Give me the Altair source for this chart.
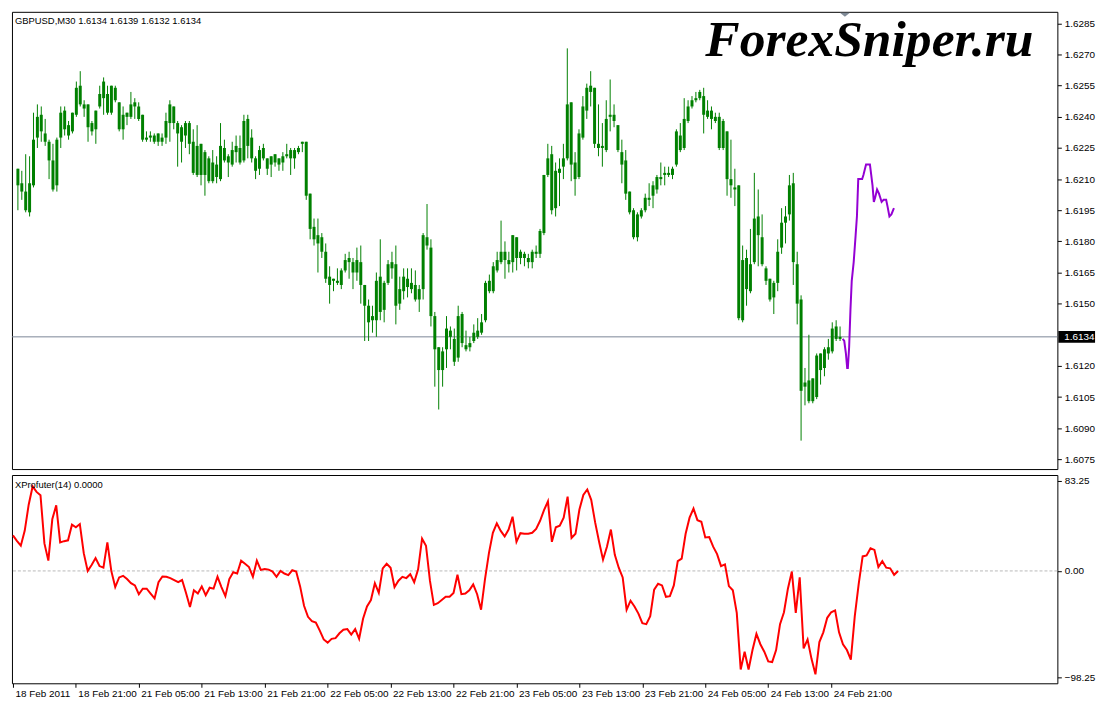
import altair as alt
import pandas as pd

# ---------------- text ----------------
symbol_title = "GBPUSD,M30  1.6134 1.6139 1.6132 1.6134"
indicator_title = "XProfuter(14) 0.0000"
watermark = "ForexSniper.ru"
last_price = 1.6134

# ---------------- candles (bar 0 = 18 Feb 2011 13:00, M30) ----------------
high = [
    1.6215, 1.6214, 1.6222, 1.6221, 1.6242, 1.6246, 1.6245, 1.6239, 1.6229, 1.6227,
    1.6230, 1.6245, 1.6245, 1.6238, 1.6242, 1.6257, 1.6262, 1.6248, 1.6246, 1.6238,
    1.6243, 1.6255, 1.6259, 1.6255, 1.6255, 1.6255, 1.6247, 1.6245, 1.6242, 1.6252,
    1.6249, 1.6247, 1.6241, 1.6233, 1.6233, 1.6232, 1.6232, 1.6232, 1.6242, 1.6248,
    1.6245, 1.6238, 1.6236, 1.6238, 1.6238, 1.6234, 1.6236, 1.6227, 1.6224, 1.6221,
    1.6224, 1.6221, 1.6237, 1.6229, 1.6222, 1.6228, 1.6231, 1.6231, 1.6241, 1.6241,
    1.6234, 1.6221, 1.6226, 1.6227, 1.6220, 1.6221, 1.6222, 1.6220, 1.6223, 1.6227,
    1.6225, 1.6225, 1.6226, 1.6228, 1.6228, 1.6203, 1.6191, 1.6191, 1.6184, 1.6179,
    1.6168, 1.6162, 1.6167, 1.6167, 1.6174, 1.6175, 1.6172, 1.6177, 1.6178, 1.6159,
    1.6152, 1.6149, 1.6165, 1.6181, 1.6161, 1.6171, 1.6175, 1.6178, 1.6163, 1.6167,
    1.6167, 1.6167, 1.6166, 1.6159, 1.6184, 1.6198, 1.6181, 1.6146, 1.6129, 1.6129,
    1.6144, 1.6139, 1.6138, 1.6149, 1.6146, 1.6137, 1.6134, 1.6140, 1.6143, 1.6145,
    1.6161, 1.6164, 1.6170, 1.6175, 1.6190, 1.6180, 1.6175, 1.6183, 1.6182, 1.6176,
    1.6175, 1.6174, 1.6176, 1.6178, 1.6186, 1.6212, 1.6227, 1.6226, 1.6218, 1.6220,
    1.6227, 1.6273, 1.6247, 1.6223, 1.6234, 1.6250, 1.6256, 1.6262, 1.6254, 1.6246,
    1.6237, 1.6248, 1.6258, 1.6246, 1.6236, 1.6229, 1.6224, 1.6204, 1.6196, 1.6194,
    1.6196, 1.6203, 1.6208, 1.6209, 1.6212, 1.6218, 1.6216, 1.6216, 1.6216, 1.6234,
    1.6237, 1.6249, 1.6248, 1.6250, 1.6252, 1.6253, 1.6254, 1.6248, 1.6245, 1.6242,
    1.6242, 1.6239, 1.6233, 1.6229, 1.6215, 1.6207, 1.6178, 1.6176, 1.6186, 1.6213,
    1.6205, 1.6193, 1.6168, 1.6162, 1.6161, 1.6181, 1.6196, 1.6197, 1.6212, 1.6213,
    1.6175, 1.6154, 1.6119, 1.6135, 1.6114, 1.6126, 1.6126, 1.6129, 1.6133, 1.6141,
    1.6142, 1.6139,
]
body_hi = [
    1.6215, 1.6208, 1.6204, 1.6208, 1.6229, 1.6240, 1.6241, 1.6232, 1.6228, 1.6219,
    1.6229, 1.6242, 1.6243, 1.6236, 1.6242, 1.6254, 1.6255, 1.6246, 1.6246, 1.6237,
    1.6243, 1.6251, 1.6257, 1.6251, 1.6255, 1.6254, 1.6247, 1.6241, 1.6242, 1.6246,
    1.6247, 1.6245, 1.6241, 1.6230, 1.6231, 1.6231, 1.6232, 1.6230, 1.6238, 1.6246,
    1.6245, 1.6237, 1.6235, 1.6237, 1.6237, 1.6228, 1.6226, 1.6227, 1.6223, 1.6220,
    1.6218, 1.6217, 1.6226, 1.6225, 1.6221, 1.6224, 1.6226, 1.6225, 1.6238, 1.6239,
    1.6230, 1.6220, 1.6224, 1.6225, 1.6220, 1.6221, 1.6222, 1.6220, 1.6221, 1.6222,
    1.6224, 1.6224, 1.6225, 1.6228, 1.6228, 1.6203, 1.6187, 1.6183, 1.6182, 1.6175,
    1.6163, 1.6162, 1.6161, 1.6166, 1.6171, 1.6172, 1.6170, 1.6171, 1.6170, 1.6159,
    1.6149, 1.6144, 1.6161, 1.6163, 1.6160, 1.6169, 1.6170, 1.6169, 1.6157, 1.6163,
    1.6162, 1.6160, 1.6159, 1.6157, 1.6183, 1.6182, 1.6177, 1.6144, 1.6129, 1.6127,
    1.6138, 1.6137, 1.6133, 1.6144, 1.6145, 1.6130, 1.6131, 1.6136, 1.6137, 1.6141,
    1.6160, 1.6161, 1.6168, 1.6171, 1.6175, 1.6175, 1.6171, 1.6183, 1.6182, 1.6175,
    1.6174, 1.6172, 1.6175, 1.6175, 1.6185, 1.6212, 1.6220, 1.6222, 1.6214, 1.6215,
    1.6220, 1.6246, 1.6247, 1.6218, 1.6232, 1.6245, 1.6254, 1.6255, 1.6254, 1.6227,
    1.6226, 1.6239, 1.6241, 1.6241, 1.6236, 1.6223, 1.6219, 1.6204, 1.6195, 1.6193,
    1.6195, 1.6201, 1.6201, 1.6207, 1.6211, 1.6211, 1.6213, 1.6213, 1.6215, 1.6233,
    1.6231, 1.6239, 1.6245, 1.6248, 1.6249, 1.6252, 1.6250, 1.6243, 1.6243, 1.6240,
    1.6240, 1.6238, 1.6233, 1.6210, 1.6206, 1.6207, 1.6171, 1.6172, 1.6169, 1.6191,
    1.6192, 1.6182, 1.6167, 1.6162, 1.6160, 1.6175, 1.6189, 1.6192, 1.6207, 1.6208,
    1.6169, 1.6152, 1.6112, 1.6113, 1.6114, 1.6125, 1.6126, 1.6128, 1.6129, 1.6138,
    1.6139, 1.6134,
]
body_lo = [
    1.6207, 1.6204, 1.6195, 1.6194, 1.6207, 1.6230, 1.6233, 1.6228, 1.6219, 1.6205,
    1.6207, 1.6230, 1.6234, 1.6231, 1.6233, 1.6241, 1.6246, 1.6244, 1.6235, 1.6233,
    1.6234, 1.6245, 1.6249, 1.6242, 1.6242, 1.6248, 1.6234, 1.6234, 1.6240, 1.6240,
    1.6245, 1.6239, 1.6229, 1.6229, 1.6230, 1.6228, 1.6228, 1.6228, 1.6230, 1.6237,
    1.6237, 1.6232, 1.6228, 1.6231, 1.6227, 1.6213, 1.6212, 1.6212, 1.6212, 1.6209,
    1.6209, 1.6211, 1.6210, 1.6219, 1.6218, 1.6217, 1.6223, 1.6218, 1.6219, 1.6226,
    1.6220, 1.6214, 1.6215, 1.6220, 1.6215, 1.6217, 1.6218, 1.6217, 1.6218, 1.6221,
    1.6220, 1.6220, 1.6223, 1.6227, 1.6202, 1.6186, 1.6181, 1.6179, 1.6175, 1.6162,
    1.6159, 1.6161, 1.6160, 1.6159, 1.6166, 1.6170, 1.6165, 1.6165, 1.6159, 1.6149,
    1.6141, 1.6142, 1.6142, 1.6146, 1.6147, 1.6160, 1.6167, 1.6149, 1.6150, 1.6156,
    1.6158, 1.6157, 1.6152, 1.6152, 1.6157, 1.6178, 1.6144, 1.6128, 1.6118, 1.6118,
    1.6128, 1.6134, 1.6122, 1.6124, 1.6131, 1.6128, 1.6129, 1.6132, 1.6134, 1.6136,
    1.6142, 1.6156, 1.6156, 1.6166, 1.6170, 1.6171, 1.6169, 1.6170, 1.6172, 1.6172,
    1.6172, 1.6170, 1.6170, 1.6174, 1.6174, 1.6184, 1.6212, 1.6195, 1.6196, 1.6213,
    1.6216, 1.6220, 1.6217, 1.6210, 1.6211, 1.6230, 1.6243, 1.6252, 1.6227, 1.6225,
    1.6225, 1.6224, 1.6240, 1.6238, 1.6224, 1.6217, 1.6203, 1.6194, 1.6182, 1.6182,
    1.6192, 1.6195, 1.6200, 1.6202, 1.6205, 1.6210, 1.6212, 1.6212, 1.6212, 1.6217,
    1.6224, 1.6225, 1.6238, 1.6245, 1.6248, 1.6249, 1.6241, 1.6240, 1.6239, 1.6238,
    1.6225, 1.6225, 1.6210, 1.6207, 1.6205, 1.6143, 1.6142, 1.6157, 1.6156, 1.6170,
    1.6183, 1.6169, 1.6161, 1.6152, 1.6153, 1.6160, 1.6177, 1.6189, 1.6193, 1.6170,
    1.6150, 1.6108, 1.6110, 1.6103, 1.6103, 1.6105, 1.6118, 1.6119, 1.6126, 1.6127,
    1.6133, 1.6133,
]
low = [
    1.6195, 1.6200, 1.6194, 1.6192, 1.6206, 1.6225, 1.6228, 1.6226, 1.6210, 1.6204,
    1.6204, 1.6225, 1.6231, 1.6229, 1.6232, 1.6240, 1.6245, 1.6240, 1.6228, 1.6231,
    1.6227, 1.6244, 1.6241, 1.6241, 1.6241, 1.6247, 1.6233, 1.6229, 1.6236, 1.6239,
    1.6239, 1.6238, 1.6228, 1.6228, 1.6228, 1.6227, 1.6226, 1.6226, 1.6227, 1.6228,
    1.6234, 1.6216, 1.6218, 1.6225, 1.6222, 1.6212, 1.6211, 1.6207, 1.6202, 1.6208,
    1.6208, 1.6208, 1.6209, 1.6218, 1.6211, 1.6216, 1.6218, 1.6217, 1.6218, 1.6220,
    1.6218, 1.6210, 1.6212, 1.6219, 1.6212, 1.6211, 1.6216, 1.6214, 1.6214, 1.6220,
    1.6212, 1.6215, 1.6222, 1.6223, 1.6200, 1.6181, 1.6178, 1.6165, 1.6172, 1.6160,
    1.6150, 1.6156, 1.6159, 1.6157, 1.6165, 1.6162, 1.6157, 1.6161, 1.6150, 1.6132,
    1.6132, 1.6136, 1.6134, 1.6142, 1.6141, 1.6159, 1.6162, 1.6140, 1.6147, 1.6152,
    1.6153, 1.6155, 1.6151, 1.6146, 1.6152, 1.6176, 1.6139, 1.6110, 1.6099, 1.6110,
    1.6119, 1.6128, 1.6120, 1.6122, 1.6129, 1.6127, 1.6127, 1.6131, 1.6133, 1.6135,
    1.6141, 1.6155, 1.6155, 1.6165, 1.6169, 1.6162, 1.6165, 1.6165, 1.6166, 1.6169,
    1.6168, 1.6167, 1.6167, 1.6172, 1.6172, 1.6183, 1.6211, 1.6193, 1.6192, 1.6197,
    1.6210, 1.6219, 1.6209, 1.6202, 1.6210, 1.6229, 1.6239, 1.6245, 1.6225, 1.6221,
    1.6216, 1.6223, 1.6233, 1.6235, 1.6223, 1.6208, 1.6200, 1.6193, 1.6181, 1.6180,
    1.6191, 1.6194, 1.6197, 1.6196, 1.6203, 1.6207, 1.6207, 1.6211, 1.6210, 1.6216,
    1.6223, 1.6224, 1.6237, 1.6244, 1.6247, 1.6248, 1.6232, 1.6239, 1.6234, 1.6237,
    1.6224, 1.6224, 1.6202, 1.6201, 1.6197, 1.6142, 1.6141, 1.6149, 1.6155, 1.6169,
    1.6168, 1.6168, 1.6159, 1.6151, 1.6145, 1.6156, 1.6174, 1.6179, 1.6190, 1.6159,
    1.6140, 1.6084, 1.6101, 1.6102, 1.6102, 1.6104, 1.6111, 1.6115, 1.6123, 1.6126,
    1.6132, 1.6132,
]

# ---------------- XProfuter(14), bars 0..225 ----------------
xprofuter = [
    32.8, 27.8, 23.3, 37.3, 61.2, 78.0, 73.0, 70.0, 25.4, 9.5,
    47.7, 60.6, 26.3, 27.5, 28.3, 42.7, 40.3, 43.3, 16.4, 0.0,
    5.4, 11.9, 4.5, 3.0, 26.3, 0.0, -14.9, -6.0, -4.5, -7.5,
    -11.3, -13.4, -21.5, -16.4, -16.4, -20.9, -25.4, -10.4, -5.1, -5.4,
    -6.6, -8.4, -10.4, -8.4, -20.3, -33.4, -17.9, -20.9, -14.3, -22.4,
    -15.5, -16.4, -5.4, -14.9, -23.3, -7.5, -1.2, -2.4, 9.5, 6.6,
    3.6, -5.4, 9.5, 0.9, 1.8, 1.2, -0.6, -5.4, 0.0, -2.4,
    -3.9, 0.6, -0.6, -14.3, -32.2, -42.4, -46.3, -47.7, -55.2, -63.3,
    -66.2, -62.7, -62.1, -57.6, -54.3, -53.7, -58.8, -53.7, -62.7, -44.2,
    -32.8, -26.9, -11.3, -20.3, 2.4, 6.6, 3.0, -14.9, -9.0, -5.4,
    -6.6, -3.0, -10.4, 1.5, 29.8, 23.3, -9.0, -31.3, -29.8, -26.9,
    -23.9, -23.9, -20.3, -3.5, -21.5, -20.9, -17.9, -12.5, -21.5, -35.8,
    -7.5, 16.4, 35.2, 43.9, 37.0, 31.9, 38.2, 50.1, 26.9, 34.9,
    34.3, 34.3, 35.2, 38.8, 46.3, 56.1, 64.2, 26.9, 40.3, 41.8,
    49.2, 68.6, 30.4, 34.3, 56.7, 70.1, 75.2, 65.7, 44.8, 26.9,
    10.4, 22.4, 38.2, 14.9, 3.0, -6.0, -35.8, -27.5, -32.8, -39.4,
    -48.3, -49.2, -41.8, -17.3, -11.9, -13.4, -23.9, -23.3, -13.4, 9.0,
    11.3, 34.3, 49.2, 57.6, 46.9, 45.4, 31.0, 31.3, 22.4, 15.5,
    4.5, 6.0, -14.0, -17.9, -38.8, -91.0, -74.6, -91.0, -73.1, -58.2,
    -67.7, -74.6, -83.6, -84.2, -73.1, -49.2, -38.2, -16.4, -0.5, -38.8,
    -6.0, -71.6, -63.3, -81.2, -95.5, -65.7, -56.7, -43.3, -38.2, -36.5,
    -56.7, -67.7, -73.1, -82.0, -41.8, -11.9, 13.4, 14.3, 20.9, 19.4,
    3.6, 9.0, 3.0, 2.4, -3.6, 0.0,
]

# ---------------- forecast (purple) ----------------
forecast_bar = [
    211.67, 212.08, 212.5, 212.83, 213.0, 213.33, 213.67, 214.0, 214.5, 215.0,
    215.33, 215.67, 216.67, 217.0, 217.67, 218.33, 218.67, 219.0, 219.33, 219.67,
    220.0, 220.5, 221.0, 221.67, 222.17, 222.83, 223.17, 223.67, 224.17, 224.83,
]
forecast_price = [
    1.6133, 1.6132, 1.6126, 1.6119, 1.6119, 1.6129, 1.6147, 1.6161, 1.6170, 1.6183,
    1.6192, 1.6210, 1.6210, 1.6212, 1.6217, 1.6217, 1.6217, 1.6212, 1.6207, 1.6199,
    1.6201, 1.6205, 1.6203, 1.6199, 1.6200, 1.6200, 1.6197, 1.6192, 1.6193, 1.6196,
]

# ---------------- axes ----------------
time_tick_bars = [0, 16, 32, 48, 64, 80, 96, 112, 128, 144, 160, 176, 192, 208]
time_tick_labels = [
    "18 Feb 2011", "18 Feb 21:00", "21 Feb 05:00", "21 Feb 13:00", "21 Feb 21:00",
    "22 Feb 05:00", "22 Feb 13:00", "22 Feb 21:00", "23 Feb 05:00", "23 Feb 13:00",
    "23 Feb 21:00", "24 Feb 05:00", "24 Feb 13:00", "24 Feb 21:00",
]
price_ticks = [1.6075, 1.6090, 1.6105, 1.6120, 1.6150, 1.6165, 1.6180, 1.6195,
               1.6210, 1.6225, 1.6240, 1.6255, 1.6270, 1.6285]
osc_ticks = [83.25, 0.0, -98.25]

# ---------------- layout / style ----------------
W = 1054
H_TOP = 461
H_BOT = 210
X_DOMAIN = [-0.25, 265.5]
PRICE_DOMAIN = [1.60703, 1.62906]
OSC_DOMAIN = [-103.8, 88.6]
GREEN = "#008000"
FONT = "Liberation Sans"

candles = pd.DataFrame({
    "bar": list(range(len(high))),
    "high": high, "body_hi": body_hi, "body_lo": body_lo, "low": low,
})
osc_df = pd.DataFrame({"bar": list(range(len(xprofuter))), "value": xprofuter})
fc_df = pd.DataFrame({"bar": forecast_bar, "price": forecast_price})

xs = alt.Scale(domain=X_DOMAIN, nice=False, zero=False)
ys = alt.Scale(domain=PRICE_DOMAIN, nice=False, zero=False)
os_ = alt.Scale(domain=OSC_DOMAIN, nice=False, zero=False)

price_axis = alt.Axis(orient="right", values=price_ticks, format=".4f", title=None,
                      grid=False, domain=False, tickSize=4, tickColor="black",
                      labelPadding=3, labelFont=FONT, labelFontSize=10, labelColor="black")
osc_axis = alt.Axis(orient="right", values=osc_ticks, format=".2f", title=None,
                    grid=False, domain=False, tickSize=4, tickColor="black",
                    labelPadding=3, labelFont=FONT, labelFontSize=10, labelColor="black")
bars_js = "[" + ",".join(str(b) for b in time_tick_bars) + "]"
labels_js = "[" + ",".join("'" + s + "'" for s in time_tick_labels) + "]"
time_axis = alt.Axis(orient="bottom", values=time_tick_bars, title=None, grid=False,
                     domain=False, tickSize=4, tickColor="black",
                     labelExpr=labels_js + "[indexof(" + bars_js + ", datum.value)]",
                     labelAlign="left", labelBaseline="top", labelPadding=1, labelOffset=2,
                     labelFont=FONT, labelFontSize=10, labelColor="black",
                     labelOverlap=False, labelFlush=False, labelBound=False)

X_top = alt.X("bar:Q", scale=xs, axis=None)

price_line = alt.Chart(pd.DataFrame({"price": [last_price]})).mark_rule(
    color="#7A8696", strokeWidth=1).encode(
    y=alt.Y("price:Q", scale=ys, axis=price_axis))

wicks = alt.Chart(candles).mark_rule(color=GREEN, strokeWidth=1).encode(
    x=X_top, y=alt.Y("low:Q", scale=ys, axis=price_axis), y2="high:Q")

bodies = alt.Chart(candles).mark_bar(color=GREEN, size=3).encode(
    x=X_top, y=alt.Y("body_lo:Q", scale=ys, axis=price_axis), y2="body_hi:Q")

forecast = alt.Chart(fc_df).mark_line(color="#9400D3", strokeWidth=2).encode(
    x=X_top, y=alt.Y("price:Q", scale=ys, axis=price_axis))

title_txt = alt.Chart(pd.DataFrame({"t": [symbol_title]})).mark_text(
    align="left", baseline="middle", font=FONT, fontSize=9.5, color="black").encode(
    x=alt.value(3), y=alt.value(9), text="t:N")

wm_txt = alt.Chart(pd.DataFrame({"t": [watermark]})).mark_text(
    align="left", baseline="alphabetic", font="Liberation Serif", fontSize=52,
    fontStyle="italic", fontWeight="bold", color="black").encode(
    x=alt.value(699), y=alt.value(45), text="t:N")

tag_df = pd.DataFrame({"price": [last_price], "label": [f"{last_price:.4f}"]})
tag_box = alt.Chart(tag_df).mark_rule(color="black", strokeWidth=12).encode(
    x=alt.value(W + 1), x2=alt.value(W + 38),
    y=alt.Y("price:Q", scale=ys, axis=price_axis))
tag_txt = alt.Chart(tag_df).mark_text(
    align="left", baseline="middle", font=FONT, fontSize=10, color="white").encode(
    x=alt.value(W + 7), y=alt.Y("price:Q", scale=ys, axis=price_axis), text="label:N")

shift_mark = alt.Chart(pd.DataFrame({"b": [212.25]})).mark_point(
    shape="M-1,-0.4L1,-0.4L0,0.4Z", filled=True, color="#7F8A96", opacity=1, size=100).encode(
    x=alt.X("b:Q", scale=xs, axis=None), y=alt.value(3))

top = alt.layer(price_line, wicks, bodies, forecast, title_txt, wm_txt,
                tag_box, tag_txt, shift_mark).properties(width=W, height=H_TOP)

zero_line = alt.Chart(pd.DataFrame({"v": [0.0]})).mark_rule(
    color="#B8B8B8", strokeDash=[3, 2], strokeWidth=1).encode(
    y=alt.Y("v:Q", scale=os_, axis=osc_axis))

osc_line = alt.Chart(osc_df).mark_line(color="#FF0000", strokeWidth=2).encode(
    x=alt.X("bar:Q", scale=xs, axis=time_axis),
    y=alt.Y("value:Q", scale=os_, axis=osc_axis))

ind_txt = alt.Chart(pd.DataFrame({"t": [indicator_title]})).mark_text(
    align="left", baseline="middle", font=FONT, fontSize=9.5, color="black").encode(
    x=alt.value(3), y=alt.value(10), text="t:N")

bottom = alt.layer(zero_line, osc_line, ind_txt).properties(width=W, height=H_BOT)

chart = alt.vconcat(top, bottom, spacing=4).properties(
    padding={"left": 0, "top": 0, "right": 0, "bottom": 0}
).configure(background="white").configure_view(stroke="black", strokeWidth=1)

chart.save("out.html", embed_options={"renderer": "svg", "actions": False})
